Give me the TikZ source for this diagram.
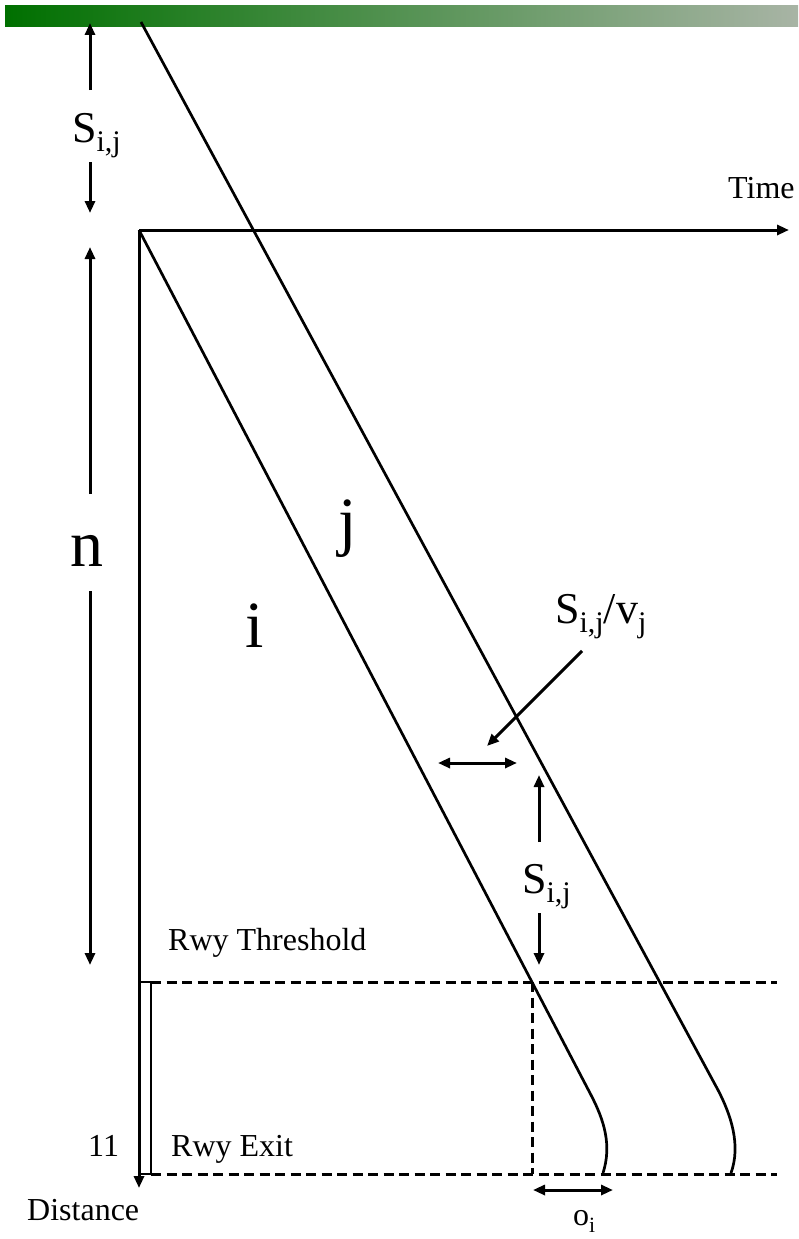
\documentclass[tikz,border=0pt]{standalone}
\usepackage{fontspec}
\setmainfont{Liberation Serif}
\usepackage{xcolor}
\usepackage{tikz}
\usetikzlibrary{arrows.meta, positioning, calc}

\definecolor{barleft}{RGB}{0,112,0}
\definecolor{barright}{RGB}{168,180,165}
\newcommand{\lowsub}[1]{\raisebox{-0.22em}{\scalebox{0.68}{#1}}}

\begin{document}
\begin{tikzpicture}[
    x=1pt, y=-1pt,
    txt/.style={
        inner sep=0pt,
        anchor=base west,
        font=\fontsize{32}{38}\selectfont
    },
    midtxt/.style={txt, font=\fontsize{44}{52}\selectfont},
    bigtxt/.style={inner sep=0pt, anchor=base, font=\fontsize{66}{78}\selectfont},
    track/.style={line width=2.7pt},
    arrow/.style={-{Triangle[length=12pt,width=10pt]}, line width=3pt},
    dblarrow/.style={{Triangle[length=12pt,width=10pt]}-{Triangle[length=12pt,width=10pt]}, line width=3pt},
    rwy/.style={dash pattern=on 10pt off 5.5pt, line width=3pt}
]

\useasboundingbox (0,0) rectangle (798,1239);
\shade[left color=barleft, right color=barright] (5,6) rectangle (798,27);

% axes
\coordinate (origin) at (139,230);
\coordinate (timeend) at (789,230);
\coordinate (distend) at (139,1188);

% runway
\coordinate (thrL) at (151,982);
\coordinate (thrR) at (777,982);
\coordinate (exitL) at (151,1174);
\coordinate (exitR) at (777,1174);
\coordinate (thrI) at (532,982);
\coordinate (exitI) at (532,1174);

% dimension arrow ends
\coordinate (sTopA) at (90,90);
\coordinate (sTopB) at (90,23);
\coordinate (sTopC) at (90,162);
\coordinate (sTopD) at (90,213);
\coordinate (nA) at (90,494);
\coordinate (nB) at (90,247);
\coordinate (nC) at (90,591);
\coordinate (nD) at (90,965);
\coordinate (sLowA) at (539,842);
\coordinate (sLowB) at (539,775);
\coordinate (sLowC) at (539,913);
\coordinate (sLowD) at (539,965);
\coordinate (gapL) at (438,763);
\coordinate (gapR) at (517,763);
\coordinate (ptrA) at (582,651);
\coordinate (ptrB) at (487,746);
\coordinate (oiL) at (533,1190);
\coordinate (oiR) at (613,1190);

% labels
\node[midtxt] (sijtop) at (72,142) {S\lowsub{i,j}};
\node[txt] (time) at (728,198) {Time};
\node[bigtxt] (labn) at (87,566) {n};
\node[bigtxt] (labj) at (348,543) {j};
\node[bigtxt] (labi) at (255,647) {i};
\node[midtxt] (sijv) at (555,623) {S\lowsub{i,j}/v\lowsub{j}};
\node[midtxt] (sijlow) at (522,893) {S\lowsub{i,j}};
\node[txt] (thr) at (168,950) {Rwy Threshold};
\node[txt] (rwyexit) at (171,1156) {Rwy Exit};
\node[txt] (eleven) at (88,1156) {11};
\node[txt] (dist) at (27,1220) {Distance};
\node[txt] (oi) at (573,1225) {o\lowsub{i}};

% runway lines
\draw[rwy] (thrL) -- (thrR);
\draw[rwy] (exitL) -- (exitR);
\draw[rwy] (thrI) -- (exitI);
\draw[line width=2.7pt] (139,982) rectangle (exitL);

\draw[arrow] (origin) -- (timeend);
\draw[arrow] (origin) -- (distend);

% aircraft i and j
\draw[track] (origin) -- (591,1095) .. controls (604,1120) and (612,1145) .. (603,1173);
\draw[track] (141,22) -- (718,1090) .. controls (731,1115) and (741,1145) .. (731,1173);

% dimensions
\draw[arrow] (sTopA) -- (sTopB);
\draw[arrow] (sTopC) -- (sTopD);
\draw[arrow] (nA) -- (nB);
\draw[arrow] (nC) -- (nD);
\draw[arrow] (sLowA) -- (sLowB);
\draw[arrow] (sLowC) -- (sLowD);
\draw[dblarrow] (gapL) -- (gapR);
\draw[arrow] (ptrA) -- (ptrB);
\draw[dblarrow] (oiL) -- (oiR);

\end{tikzpicture}
\end{document}
